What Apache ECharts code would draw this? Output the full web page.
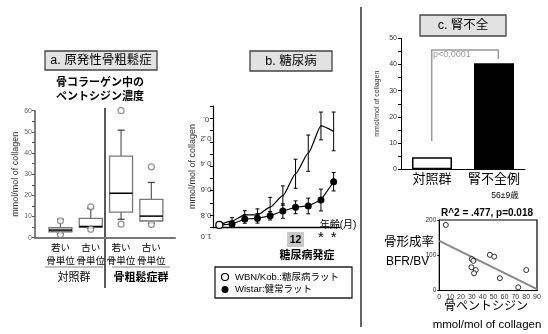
<!DOCTYPE html>
<html><head><meta charset="utf-8">
<script src="https://cdn.jsdelivr.net/npm/echarts@6/dist/echarts.min.js"></script>
<style>html,body{margin:0;padding:0;background:#fff}#c{width:548px;height:334px}</style>
</head><body><div id="c"></div>
<script>
const FONT = "'Liberation Sans','Noto Sans CJK JP',sans-serif";

// ---- Panel a: box plots (pentosidine in bone collagen) ----
const boxLabelsTop = ['若い', '古い', '若い', '古い'];
const boxLabelsBottom = ['骨単位', '骨単位', '骨単位', '骨単位'];
const boxGroups = ['対照群', '骨粗鬆症群'];
// [min, q1, median, q3, max]
const boxStats = [
  [1.9, 2.8, 3.6, 4.7, 8.7],
  [4.4, 4.9, 5.3, 9.1, 13.9],
  [8.7, 12.1, 21.0, 38.5, 50.8],
  [6.8, 7.9, 10.2, 18.1, 26.1]
];
const outlierBox = [1, 1, 2, 2, 3, 3, 4, 4];
const outlierVal = [8.0, 1.5, 14.6, 4.0, 60.0, 6.4, 33.5, 6.3];

// ---- Panel b: diabetes rats ----
const ageMonths = ['0', '2', '4', '6', '8', '10', '12', '14', '16', '18'];
const wbnMean = [0.17, 0.5, 1.0, 1.0, 1.65, 2.6, 4.4, 6.1, 8.35, 7.9];
const wbnErr = [0.2, 0.27, 0.35, 0.5, 0.8, 0.8, 1.2, 1.5, 1.15, 1.6];
const wistarMean = [0.15, 0.25, 0.66, 0.72, 0.93, 1.32, 1.63, 1.74, 2.23, 3.74];
const wistarErr = [0.15, 0.2, 0.35, 0.4, 0.35, 0.6, 0.53, 0.65, 0.9, 0.76];
const bTickLabels = ['0.', '0.2', '0.4', '0.6', '0.8', '1.0'];
const bTickPos = [8.9, 7.3, 5.3, 3.1, 1.0, -0.75];
const starIdx = [8, 9];
const onsetIdx = 6;

// ---- Panel c: renal failure ----
const renalCats = ['対照群', '腎不全例'];
const renalVals = [4.6, 40.5];

// ---- Scatter ----
const pentX = [6, 29.9, 31.4, 29.6, 33.6, 32, 46.6, 50.6, 55.8, 72.7, 80.1];
const bfrY = [186, 89, 84, 66, 58, 49, 101, 96, 35, 9, 58];
const fitX = [0, 90];
const fitY = [141, 4];

function renderBox(params, api) {
  const x = api.value(0);
  const p = [1, 2, 3, 4, 5].map(i => api.coord([x, api.value(i)]));
  const cx = p[0][0], hw = 11.5, cw = 3.5;
  const ws = {stroke: '#666', lineWidth: 1.3};
  const cs = {stroke: '#444', lineWidth: 1.3};
  return {type: 'group', children: [
    {type: 'line', shape: {x1: cx, y1: p[0][1], x2: cx, y2: p[1][1]}, style: ws},
    {type: 'line', shape: {x1: cx, y1: p[3][1], x2: cx, y2: p[4][1]}, style: ws},
    {type: 'line', shape: {x1: cx - cw, y1: p[0][1], x2: cx + cw, y2: p[0][1]}, style: cs},
    {type: 'line', shape: {x1: cx - cw, y1: p[4][1], x2: cx + cw, y2: p[4][1]}, style: cs},
    {type: 'rect', shape: {x: cx - hw, y: p[3][1], width: 2 * hw, height: p[1][1] - p[3][1]},
      style: {fill: '#fff', stroke: '#777', lineWidth: 1.3}},
    {type: 'line', shape: {x1: cx - hw, y1: p[2][1], x2: cx + hw, y2: p[2][1]}, style: {stroke: '#000', lineWidth: 1.5}}
  ]};
}
function renderErr(params, api) {
  const i = api.value(0);
  const lo = api.coord([i, api.value(1)]), hi = api.coord([i, api.value(2)]);
  const c = 2, st = {stroke: '#000', lineWidth: 1};
  return {type: 'group', children: [
    {type: 'line', shape: {x1: lo[0], y1: lo[1], x2: hi[0], y2: hi[1]}, style: st},
    {type: 'line', shape: {x1: lo[0] - c, y1: lo[1], x2: lo[0] + c, y2: lo[1]}, style: st},
    {type: 'line', shape: {x1: hi[0] - c, y1: hi[1], x2: hi[0] + c, y2: hi[1]}, style: st}
  ]};
}

const chart = echarts.init(document.getElementById('c'));
const noSplit = {show: false};
chart.setOption({
  animation: false,
  textStyle: {fontFamily: FONT},
  grid: [
    {left: 35, top: 110.7, width: 140, height: 127},
    {left: 213, top: 106, width: 127, height: 121},
    {left: 401, top: 38.3, width: 124, height: 131},
    {left: 439.3, top: 220, width: 97.7, height: 70.5, show: true, borderColor: '#000', borderWidth: 1.2}
  ],
  xAxis: [
    {gridIndex: 0, type: 'value', min: 0.16, max: 4.78, axisLine: {lineStyle: {color: '#777', width: 2}},
      axisTick: {show: false}, axisLabel: {show: false}, splitLine: noSplit},
    {gridIndex: 1, type: 'category', data: ageMonths, axisLine: {lineStyle: {color: '#000', width: 1.3}},
      axisTick: {show: false}, axisLabel: {show: false}},
    {gridIndex: 2, type: 'category', data: renalCats, axisLine: {lineStyle: {color: '#000', width: 1}},
      axisTick: {show: false}, axisLabel: {fontSize: 13, color: '#000', margin: 4, interval: 0}},
    {gridIndex: 3, type: 'value', min: 0, max: 90, interval: 10, axisLine: {lineStyle: {color: '#000'}},
      axisTick: {show: false}, axisLabel: {fontSize: 7, color: '#333', margin: 3}, splitLine: noSplit}
  ],
  yAxis: [
    {gridIndex: 0, type: 'value', min: 0, max: 60, interval: 5,
      axisLine: {show: true, lineStyle: {color: '#555', width: 1.5}},
      axisTick: {show: true, length: 3, lineStyle: {color: '#555'}},
      axisLabel: {fontSize: 7, color: '#666', margin: 3, formatter: v => (v % 10 === 0 ? v : '')},
      splitLine: noSplit, name: 'mmol/mol of collagen', nameLocation: 'middle', nameGap: 11,
      nameTextStyle: {fontSize: 9, color: '#333'}},
    {gridIndex: 1, type: 'value', min: 0, max: 10, interval: 1,
      axisLine: {show: true, lineStyle: {color: '#000', width: 1.2}},
      axisTick: {show: true, length: 3, lineStyle: {color: '#000'}},
      axisLabel: {show: false}, splitLine: noSplit,
      name: 'mmol/mol of collagen', nameLocation: 'middle', nameGap: 16,
      nameTextStyle: {fontSize: 9, color: '#333'}},
    {gridIndex: 2, type: 'value', min: 0, max: 50, interval: 5,
      axisLine: {show: true, lineStyle: {color: '#000'}},
      axisTick: {show: true, length: 3, lineStyle: {color: '#000'}},
      axisLabel: {fontSize: 7, color: '#333', margin: 4, formatter: v => (v % 10 === 0 ? v : '')},
      splitLine: noSplit, name: 'mmol/mol of collagen', nameLocation: 'middle', nameGap: 20,
      nameTextStyle: {fontSize: 7, color: '#333'}},
    {gridIndex: 3, type: 'value', min: 0, max: 200, interval: 100,
      axisLine: {show: true, lineStyle: {color: '#000'}},
      axisTick: {show: true, length: 2, lineStyle: {color: '#000'}},
      axisLabel: {fontSize: 6.5, color: '#333', margin: 3}, splitLine: noSplit}
  ],
  series: [
    {type: 'custom', xAxisIndex: 0, yAxisIndex: 0, renderItem: renderBox,
      data: boxStats.map((s, i) => [i + 1].concat(s)), z: 3},
    {type: 'scatter', xAxisIndex: 0, yAxisIndex: 0, data: outlierVal.map((v, i) => [outlierBox[i], v]),
      symbol: 'circle', symbolSize: 6, itemStyle: {color: '#fff', borderColor: '#777', borderWidth: 1.2}, z: 4},
    {type: 'custom', xAxisIndex: 1, yAxisIndex: 1, renderItem: renderErr,
      data: wbnMean.map((m, i) => [i, m - wbnErr[i], m + wbnErr[i]]), z: 2},
    {type: 'custom', xAxisIndex: 1, yAxisIndex: 1, renderItem: renderErr,
      data: wistarMean.map((m, i) => [i, m - wistarErr[i], m + wistarErr[i]]), z: 2},
    {type: 'line', xAxisIndex: 1, yAxisIndex: 1, data: wbnMean, smooth: 0.2, smoothMonotone: 'x',
      symbol: 'circle', symbolSize: (v, p) => (p.dataIndex === 0 ? 7 : 0),
      itemStyle: {color: '#fff', borderColor: '#000', borderWidth: 1.2},
      lineStyle: {color: '#000', width: 1.2}, z: 4},
    {type: 'line', xAxisIndex: 1, yAxisIndex: 1, data: wistarMean, symbol: 'circle', symbolSize: 7,
      itemStyle: {color: '#000'}, lineStyle: {color: '#000', width: 1.2}, z: 3},
    {type: 'bar', xAxisIndex: 2, yAxisIndex: 2, barWidth: 40,
      data: renalVals.map((v, i) => ({value: v, itemStyle: i === 0 ?
        {color: '#fff', borderColor: '#000', borderWidth: 1.5} : {color: '#000'}}))},
    {type: 'scatter', xAxisIndex: 3, yAxisIndex: 3, data: pentX.map((x, i) => [x, bfrY[i]]),
      symbol: 'circle', symbolSize: 5, itemStyle: {color: '#fff', borderColor: '#000', borderWidth: 1}, z: 4},
    {type: 'line', xAxisIndex: 3, yAxisIndex: 3, data: fitX.map((x, i) => [x, fitY[i]]), symbol: 'none',
      lineStyle: {color: '#888', width: 2}, z: 3}
  ]
});

function txt(x, y, text, fs, extra) {
  return Object.assign({type: 'text', x: x, y: y, style: Object.assign({text: text, fontSize: fs, fill: '#000',
    align: 'center', verticalAlign: 'middle', fontFamily: FONT}, (extra && extra.style) || {})},
    extra ? {rotation: extra.rotation || 0} : {});
}
function line(x1, y1, x2, y2, stroke, lw) {
  return {type: 'line', shape: {x1, y1, x2, y2}, style: {stroke, lineWidth: lw}};
}
function titleBox(x, y, w, h, text) {
  return [{type: 'rect', shape: {x, y, width: w, height: h}, style: {fill: '#e2e2e2', stroke: '#444', lineWidth: 1.3}},
    txt(x + w / 2, y + h / 2 + 0.5, text, 12.5)];
}
const g = [];
g.push(line(361, 7, 361, 327, '#666', 2));
g.push(...titleBox(45, 51, 112, 19, 'a. 原発性骨粗鬆症'));
g.push(...titleBox(250, 51, 82, 20, 'b. 糖尿病'));
g.push(...titleBox(420, 15, 86, 21, 'c. 腎不全'));
// panel a
g.push(txt(100, 83, '骨コラーゲン中の', 11, {style: {fontWeight: 'bold'}}));
g.push(txt(100, 97, 'ペントシジン濃度', 11, {style: {fontWeight: 'bold'}}));
g.push(line(105, 108, 105, 288, '#000', 1.3));
boxLabelsTop.forEach((t, i) => {
  const px = chart.convertToPixel({gridIndex: 0}, [i + 1, 0]);
  g.push(txt(px[0], 248.5, t, 9.5));
  g.push(txt(px[0], 261, boxLabelsBottom[i], 9.5));
});
g.push(line(45, 267, 103, 267, '#888', 1.2));
g.push(line(112, 267, 170, 267, '#888', 1.2));
g.push(txt(74, 277.5, boxGroups[0], 11));
g.push(txt(141, 277.5, boxGroups[1], 11, {style: {fontWeight: 'bold'}}));
// panel b
bTickLabels.forEach((t, k) => {
  const py = chart.convertToPixel({gridIndex: 1}, [0, bTickPos[k]])[1];
  g.push(txt(206, py, t, 8, {rotation: Math.PI, style: {fill: '#444'}}));
});
g.push(txt(338, 225.5, '年齢(月)', 10));
starIdx.forEach(i => {
  const px = chart.convertToPixel({gridIndex: 1}, [i, 0])[0];
  g.push(txt(px, 238, '*', 15));
});
{
  const px = chart.convertToPixel({gridIndex: 1}, [onsetIdx, 0])[0];
  g.push({type: 'rect', shape: {x: px - 8.5, y: 232, width: 17, height: 15}, style: {fill: '#c8c8c8'}});
  g.push(txt(px, 240, ageMonths[onsetIdx], 10.5, {style: {fontWeight: 'bold'}}));
}
g.push(txt(307, 256, '糖尿病発症', 11, {style: {fontWeight: 'bold'}}));
g.push({type: 'rect', shape: {x: 215, y: 267, width: 137, height: 31}, style: {fill: '#fff', stroke: '#222', lineWidth: 1.3}});
g.push({type: 'circle', shape: {cx: 225, cy: 277, r: 3.5}, style: {fill: '#fff', stroke: '#000', lineWidth: 1.2}});
g.push({type: 'circle', shape: {cx: 225, cy: 289.5, r: 3.5}, style: {fill: '#000'}});
g.push(txt(235, 277, 'WBN/Kob.:糖尿病ラット', 9.5, {style: {align: 'left'}}));
g.push(txt(235, 289.5, 'Wistar:健常ラット', 9.5, {style: {align: 'left'}}));
// panel c
g.push({type: 'polyline', shape: {points: [[431.7, 141], [431.7, 50], [498.3, 50], [498.3, 59]]},
  style: {fill: null, stroke: '#999', lineWidth: 1.5}});
g.push(txt(433, 55, 'p<0.0001', 9, {style: {align: 'left', fill: '#999'}}));
g.push(txt(505, 196, '56±9歳', 8.5));
// scatter
g.push(txt(487, 213, 'R^2 = .477, p=0.018', 10, {style: {fontWeight: 'bold'}}));
g.push(txt(384, 243, '骨形成率', 12.5, {style: {align: 'left'}}));
g.push(txt(386, 262, 'BFR/BV', 12, {style: {align: 'left'}}));
g.push(txt(486, 307, '骨ペントシジン', 12));
g.push(txt(487, 325, 'mmol/mol of collagen', 11.5));
chart.setOption({graphic: g});
</script></body></html>
